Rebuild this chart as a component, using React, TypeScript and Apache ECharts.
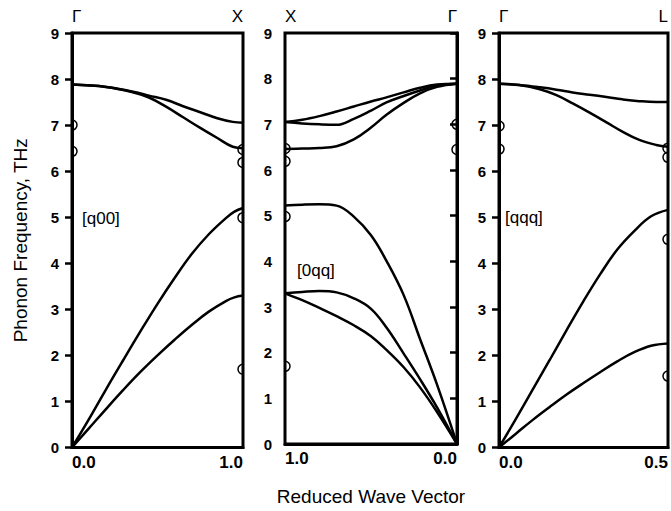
import React, { useEffect, useRef } from "react";
import * as echarts from "echarts";

// ---- [q00] direction: Γ (q = 0) to X (q = 1) ----
const q00OpticQ = [0, 0.2, 0.35, 0.45, 0.55, 0.65, 0.75, 0.85, 0.94, 1];
const q00OpticUpper = [7.88, 7.83, 7.73, 7.64, 7.55, 7.41, 7.28, 7.15, 7.07, 7.05];
const q00OpticLower = [7.88, 7.83, 7.72, 7.6, 7.4, 7.17, 6.94, 6.72, 6.53, 6.5];
const q00AcousticQ = [0, 0.1, 0.2, 0.3, 0.4, 0.5, 0.6, 0.7, 0.8, 0.9, 0.95, 1];
const q00LA = [0, 0.62, 1.27, 1.9, 2.52, 3.12, 3.68, 4.2, 4.63, 4.98, 5.12, 5.2];
const q00TA = [0, 0.42, 0.84, 1.25, 1.64, 2.0, 2.34, 2.66, 2.95, 3.18, 3.26, 3.3];
const q00Measured = [[0, 7.0], [0, 6.43], [1, 6.47], [1, 6.19], [1, 4.99], [1, 1.7]];

// ---- [0qq] direction: X (q = 1) to Γ (q = 0) ----
const oqqQ = [1, 0.9, 0.8, 0.7, 0.6, 0.5, 0.41, 0.31, 0.215, 0.116, 0];
const oqqOpticUpper = [7.05, 7.1, 7.18, 7.28, 7.39, 7.5, 7.59, 7.7, 7.8, 7.87, 7.89];
const oqqOpticMiddle = [7.05, 7.02, 7.0, 6.99, 7.12, 7.3, 7.48, 7.62, 7.74, 7.85, 7.89];
const oqqOpticLower = [6.46, 6.47, 6.48, 6.52, 6.67, 6.93, 7.21, 7.47, 7.68, 7.82, 7.89];
const oqqLA = [5.22, 5.24, 5.25, 5.22, 4.98, 4.57, 4.01, 3.26, 2.3, 1.3, 0];
const oqqTAUpper = [3.3, 3.33, 3.35, 3.32, 3.19, 2.96, 2.55, 1.98, 1.42, 0.8, 0];
const oqqTALower = [3.3, 3.15, 2.98, 2.8, 2.6, 2.36, 2.06, 1.68, 1.24, 0.7, 0];
const oqqMeasured = [[1, 6.47], [1, 6.19], [1, 4.98], [1, 1.7], [0, 7.0], [0, 6.45]];

// ---- [qqq] direction: Γ (q = 0) to L (q = 0.5) ----
const qqqOpticQ = [0, 0.06, 0.121, 0.17, 0.218, 0.268, 0.318, 0.365, 0.415, 0.465, 0.5];
const qqqOpticUpper = [7.9, 7.87, 7.82, 7.77, 7.71, 7.66, 7.61, 7.56, 7.52, 7.5, 7.5];
const qqqOpticLower = [7.9, 7.87, 7.78, 7.65, 7.47, 7.27, 7.06, 6.86, 6.68, 6.57, 6.53];
const qqqAcousticQ = [0, 0.05, 0.1, 0.15, 0.2, 0.25, 0.3, 0.35, 0.4, 0.45, 0.5];
const qqqLA = [0, 0.62, 1.26, 1.9, 2.55, 3.18, 3.77, 4.3, 4.7, 5.02, 5.16];
const qqqTA = [0, 0.3, 0.6, 0.88, 1.15, 1.4, 1.64, 1.87, 2.07, 2.21, 2.26];
const qqqMeasured = [[0, 6.98], [0, 6.48], [0.5, 6.5], [0.5, 6.3], [0.5, 4.52], [0.5, 1.55]];

// Axis ranges, symmetry-point names and direction labels
const qMax = [1, 1, 0.5];
const inverseAxis = [false, true, false];
const pointNames = [
  { min: "Γ", max: "X" },
  { min: "Γ", max: "X" },
  { min: "Γ", max: "L" },
];
const directionLabels = ["[q00]", "[0qq]", "[qqq]"];
const freqTicks = [0, 9, 1];

const FONT = "Liberation Sans, Arial, Helvetica, sans-serif";

const zip = (xs: number[], ys: number[]) => xs.map((x, i) => [x, ys[i]]);

const branches: number[][][][] = [
  [
    zip(q00OpticQ, q00OpticUpper),
    zip(q00OpticQ, q00OpticLower),
    zip(q00AcousticQ, q00LA),
    zip(q00AcousticQ, q00TA),
  ],
  [
    zip(oqqQ, oqqOpticUpper),
    zip(oqqQ, oqqOpticMiddle),
    zip(oqqQ, oqqOpticLower),
    zip(oqqQ, oqqLA),
    zip(oqqQ, oqqTAUpper),
    zip(oqqQ, oqqTALower),
  ],
  [
    zip(qqqOpticQ, qqqOpticUpper),
    zip(qqqOpticQ, qqqOpticLower),
    zip(qqqAcousticQ, qqqLA),
    zip(qqqAcousticQ, qqqTA),
  ],
];
const measured = [q00Measured, oqqMeasured, qqqMeasured];

// Panel frames in pixels
const panels = [
  { left: 72, width: 171 },
  { left: 285, width: 172 },
  { left: 499, width: 170 },
];
const TOP = 33;
const HEIGHT = 414.5;

export default function App() {
  const ref = useRef<HTMLDivElement>(null);

  useEffect(() => {
    if (!ref.current) return;
    const chart = echarts.init(ref.current, undefined, { renderer: "svg" });

    const grid = panels.map((p) => ({
      left: p.left,
      top: TOP,
      width: p.width,
      height: HEIGHT,
      show: true,
      borderColor: "#000",
      borderWidth: 3,
      backgroundColor: "transparent",
    }));

    const xAxis: any[] = [];
    panels.forEach((_, i) => {
      const inv = inverseAxis[i];
      xAxis.push({
        type: "value",
        gridIndex: i,
        position: "bottom",
        min: 0,
        max: qMax[i],
        interval: qMax[i],
        inverse: inv,
        axisLine: { show: true, onZero: false, lineStyle: { color: "#000", width: 3 } },
        axisTick: { show: false },
        splitLine: { show: false },
        axisLabel: {
          formatter: (v: number) => v.toFixed(1),
          color: "#000",
          fontFamily: FONT,
          fontSize: 17,
          fontWeight: "bold",
          margin: 6,
          alignMinLabel: inv ? "right" : "left",
          alignMaxLabel: inv ? "left" : "right",
        },
        name: i === 1 ? "Reduced Wave Vector" : "",
        nameLocation: "middle",
        nameGap: 43,
        nameTextStyle: { color: "#000", fontFamily: FONT, fontSize: 19 },
      });
      xAxis.push({
        type: "value",
        gridIndex: i,
        position: "top",
        min: 0,
        max: qMax[i],
        interval: qMax[i],
        inverse: inv,
        axisLine: { show: false },
        axisTick: { show: false },
        splitLine: { show: false },
        axisLabel: {
          formatter: (v: number) => (v === 0 ? pointNames[i].min : pointNames[i].max),
          color: "#000",
          fontFamily: FONT,
          fontSize: 17,
          margin: 8,
          alignMinLabel: inv ? "right" : "left",
          alignMaxLabel: inv ? "left" : "right",
        },
      });
    });

    const yAxis = panels.map((_, i) => ({
      type: "value",
      gridIndex: i,
      min: freqTicks[0],
      max: freqTicks[1],
      interval: freqTicks[2],
      axisLine: { show: true, lineStyle: { color: "#000", width: 3 } },
      axisTick: { show: true, inside: false, length: 7, lineStyle: { color: "#000", width: 2.5 } },
      splitLine: { show: false },
      axisLabel: {
        color: "#000",
        fontFamily: FONT,
        fontSize: 15,
        fontWeight: "bold",
        margin: 13,
      },
      name: i === 0 ? "Phonon Frequency, THz" : "",
      nameLocation: "middle",
      nameGap: 42,
      nameTextStyle: { color: "#000", fontFamily: FONT, fontSize: 19 },
    }));

    const series: any[] = [];
    branches.forEach((list, i) => {
      list.forEach((data) => {
        series.push({
          type: "line",
          xAxisIndex: i * 2,
          yAxisIndex: i,
          data,
          smooth: 0.4,
          showSymbol: false,
          lineStyle: { color: "#000", width: 2.5 },
          silent: true,
          z: 3,
        });
      });
      series.push({
        type: "custom",
        xAxisIndex: i * 2,
        yAxisIndex: i,
        data: measured[i],
        z: 4,
        renderItem: (params: any, api: any) => {
          const p = api.coord([api.value(0), api.value(1)]);
          const cs = params.coordSys;
          const atLeft = p[0] < cs.x + cs.width / 2;
          return {
            type: "arc",
            shape: {
              cx: p[0],
              cy: p[1],
              r: 5,
              startAngle: atLeft ? -Math.PI / 2 : Math.PI / 2,
              endAngle: atLeft ? Math.PI / 2 : Math.PI * 1.5,
              clockwise: true,
            },
            style: { stroke: "#000", fill: "none", lineWidth: 1.5 },
          };
        },
      });
    });

    // Direction labels inside each panel
    const labelPos = [
      { x: 82, y: 218 },
      { x: 297, y: 270 },
      { x: 505, y: 217 },
    ];
    const graphic = directionLabels.map((t, i) => ({
      type: "text",
      x: labelPos[i].x,
      y: labelPos[i].y,
      style: {
        text: t,
        fill: "#000",
        font: `17px ${FONT}`,
        textAlign: "left",
        textVerticalAlign: "middle",
      },
    }));

    chart.setOption({
      animation: false,
      backgroundColor: "#fff",
      grid,
      xAxis,
      yAxis,
      series,
      graphic,
    });

    return () => chart.dispose();
  }, []);

  return (
    <div
      ref={ref}
      style={{ position: "fixed", left: 0, top: 0, width: 671, height: 511 }}
    />
  );
}
